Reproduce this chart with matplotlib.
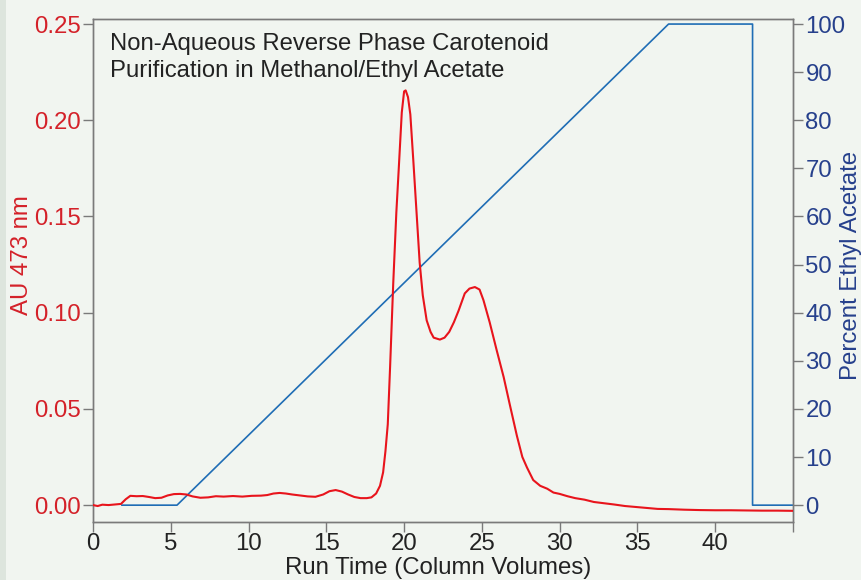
import numpy as np
import matplotlib.pyplot as plt
from matplotlib.patches import Rectangle

plt.rcParams['font.family'] = ['Liberation Sans', 'DejaVu Sans']

# absorbance trace (column volumes, AU at 473 nm)
cv = [0.0, 0.3, 0.6, 1.0, 1.4, 1.8, 2.1, 2.4, 2.8, 3.2, 3.6, 4.0, 4.4, 4.8,
      5.2, 5.6, 6.0, 6.4, 6.9, 7.4, 7.9, 8.4, 9.0, 9.6, 10.2, 10.8, 11.2,
      11.6, 12.0, 12.4, 12.8, 13.3, 13.8, 14.3, 14.8, 15.2, 15.6, 16.0, 16.4,
      16.8, 17.2, 17.6, 17.9, 18.2, 18.45, 18.65, 18.8, 18.95, 19.1, 19.3,
      19.5, 19.65, 19.85, 20.0, 20.1, 20.25, 20.4, 20.6, 20.8, 21.0, 21.2,
      21.45, 21.7, 21.9, 22.3, 22.6, 22.9, 23.2, 23.5, 23.9, 24.2, 24.55,
      24.85, 25.1, 25.5, 25.95, 26.4, 26.8, 27.25, 27.6, 27.9, 28.3, 28.75,
      29.2, 29.6, 30.0, 30.5, 31.0, 31.6, 32.2, 32.8, 33.5, 34.2, 34.9, 35.6,
      36.3, 37.0, 38.0, 39.0, 40.0, 41.0, 42.0, 43.0, 44.0, 45.0]
au = [0.0000, -0.0005, 0.0002, 0.0000, 0.0003, 0.0006, 0.0030, 0.0048,
      0.0046, 0.0047, 0.0042, 0.0036, 0.0038, 0.0050, 0.0057, 0.0058, 0.0055,
      0.0045, 0.0038, 0.0040, 0.0046, 0.0044, 0.0047, 0.0044, 0.0048, 0.0049,
      0.0052, 0.0060, 0.0063, 0.0060, 0.0055, 0.0050, 0.0045, 0.0043, 0.0055,
      0.0072, 0.0078, 0.0070, 0.0055, 0.0042, 0.0036, 0.0036, 0.0040, 0.0060,
      0.0100, 0.0170, 0.0280, 0.0420, 0.0720, 0.1150, 0.1520, 0.1740, 0.2040,
      0.2150, 0.2155, 0.2120, 0.2030, 0.1780, 0.1520, 0.1260, 0.1090, 0.0960,
      0.0900, 0.0870, 0.0860, 0.0870, 0.0900, 0.0950, 0.1010, 0.1100, 0.1125,
      0.1133, 0.1120, 0.1065, 0.0950, 0.0805, 0.0665, 0.0520, 0.0360, 0.0250,
      0.0195, 0.0130, 0.0100, 0.0085, 0.0065, 0.0058, 0.0046, 0.0036, 0.0028,
      0.0016, 0.0010, 0.0003, -0.0005, -0.0010, -0.0015, -0.0020, -0.0021,
      -0.0024, -0.0026, -0.0027, -0.0027, -0.0028, -0.0029, -0.0029, -0.0030]

# gradient program (% ethyl acetate)
grad_cv = [1.86, 5.4, 37.0, 42.4, 42.4, 45.0]
grad_pct = [0, 0, 100, 100, 0, 0]

red = '#e8141c'
blue = '#1f6db5'
navy = '#26408c'
gray = '#7a7a7a'

fig = plt.figure(figsize=(8.62, 5.80), dpi=100)
fig.patch.set_facecolor('#f1f5f0')
fig.patches.append(Rectangle((0, 0), 6 / 862, 1, transform=fig.transFigure,
                             facecolor='#dde5dd', edgecolor='none'))

ax = fig.add_axes([93 / 862, 58 / 580, 700 / 862, 503 / 580])
ax2 = ax.twinx()

ax.plot(cv, au, color=red, lw=1.5, zorder=3)
ax2.plot(grad_cv, grad_pct, color=blue, lw=1.2)
ax.set_zorder(ax2.get_zorder() + 1)
ax.patch.set_visible(False)
ax2.patch.set_facecolor('white')

ax.set_xlim(0, 45)
ax.set_ylim(-0.0088, 0.2526)
ax2.set_ylim(-3.5, 101.05)

ax.set_xticks(np.arange(0, 46, 5))
ax.set_xticklabels([str(v) for v in range(0, 41, 5)] + [''])
ax.set_yticks(np.arange(0, 0.26, 0.05))
ax.set_yticklabels(['%.2f' % v for v in np.arange(0, 0.26, 0.05)])
ax2.set_yticks(np.arange(0, 101, 10))

fs = 17.3
ax.tick_params(axis='x', direction='out', length=7, width=1, color=gray,
               labelsize=fs, labelcolor='#222222', pad=1)
ax.tick_params(axis='y', direction='out', length=7, width=1, color=gray,
               labelsize=fs, labelcolor='#d42129', pad=2)
ax2.tick_params(axis='y', direction='out', length=7, width=1, color=gray,
                labelsize=fs, labelcolor=navy, pad=2)

for a in (ax, ax2):
    for s in a.spines.values():
        s.set_color(gray)
        s.set_linewidth(1)

ax.set_xlabel('Run Time (Column Volumes)', fontsize=fs, color='#222222')
ax.xaxis.set_label_coords(0.493, -0.0915)
ax.xaxis.label.set_va('center')
ax.set_ylabel('AU 473 nm', fontsize=fs, color='#d42129')
ax.yaxis.set_label_coords(-0.101, 0.53)
ax.yaxis.label.set_va('center')
ax2.set_ylabel('Percent Ethyl Acetate', fontsize=fs, color=navy)
ax2.yaxis.set_label_coords(1.083, 0.51)
ax2.yaxis.label.set_va('center')

ax.text(0.024, 0.973, 'Non-Aqueous Reverse Phase Carotenoid\nPurification in Methanol/Ethyl Acetate',
        transform=ax.transAxes, ha='left', va='top', fontsize=17.2, color='#222222',
        linespacing=1.32)

fig.savefig('out.png', dpi=100, facecolor=fig.get_facecolor())
